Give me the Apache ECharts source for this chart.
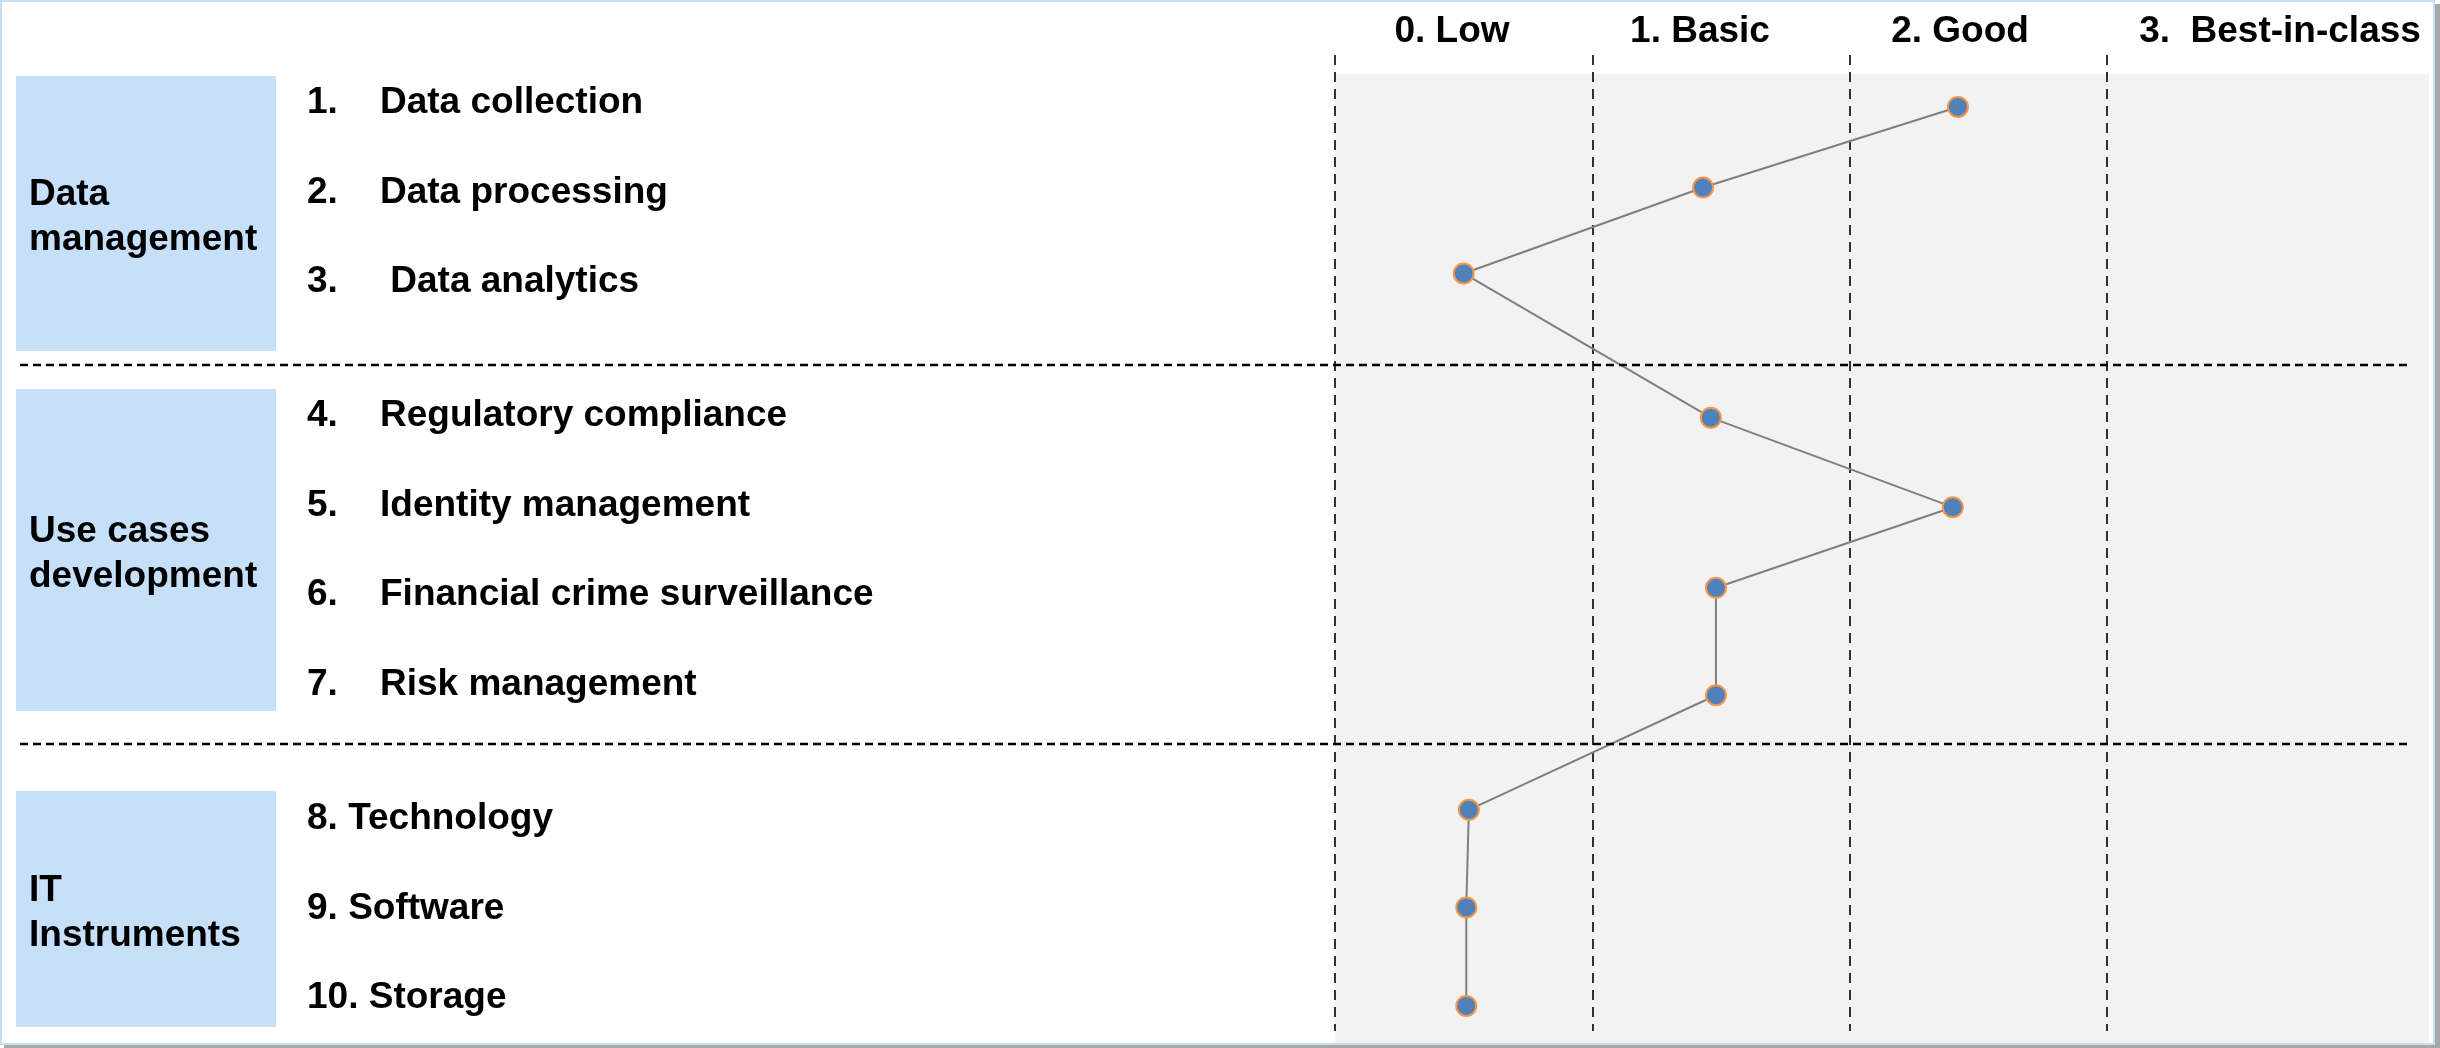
<!DOCTYPE html>
<html>
<head>
<meta charset="utf-8">
<script src="https://cdn.jsdelivr.net/npm/echarts/dist/echarts.min.js"></script>
<style>
  html, body { margin: 0; padding: 0; background: #ffffff; }
  #chart { width: 2440px; height: 1048px; }
</style>
</head>
<body>
<div id="chart"></div>
<script>
// Maturity levels shown as column headers
const levelLabels = ['0. Low', '1. Basic', '2. Good', '3.  Best-in-class'];
// Column boundaries between maturity levels
const levelBounds = [-0.5, 0.5, 1.5, 2.5];

// Assessed items
const itemCodes = ['1.', '2.', '3.', '4.', '5.', '6.', '7.', '8.', '9.', '10.'];
const itemNames = ['Data collection', 'Data processing', ' Data analytics',
  'Regulatory compliance', 'Identity management', 'Financial crime surveillance',
  'Risk management', 'Technology', 'Software', 'Storage'];
// Row position of each item label
const itemRows = [1, 2, 3, 4.5, 5.5, 6.5, 7.5, 9, 10, 11];

// Assessed maturity score per item, and the row at which it is plotted
const scores = [1.92, 0.93, 0.0, 0.96, 1.9, 0.98, 0.98, 0.02, 0.01, 0.01];
const scoreRows = [1.08, 1.98, 2.94, 4.55, 5.55, 6.45, 7.65, 8.93, 10.02, 11.12];

// Item groups
const groupNames = [['Data', 'management'], ['Use cases', 'development'], ['IT', 'Instruments']];

const FONT = '"Liberation Sans", Arial, Helvetica, sans-serif';
const TEXT_FONT = 'bold 37px ' + FONT;
const TEXT_DY = 3; // optical correction so cap height centres on the row

const chart = echarts.init(document.getElementById('chart'), null, { renderer: 'canvas' });

chart.setOption({
  animation: false,
  backgroundColor: '#ffffff',
  grid: { left: 1335, right: 11, top: 55, bottom: 17 },
  xAxis: {
    type: 'value', min: -0.5, max: 3.75,
    axisLine: { show: false }, axisTick: { show: false },
    axisLabel: { show: false }, splitLine: { show: false }
  },
  yAxis: {
    type: 'value', min: 0.5, max: 11.4, inverse: true,
    axisLine: { show: false }, axisTick: { show: false },
    axisLabel: { show: false }, splitLine: { show: false }
  },
  series: [{
    type: 'line',
    data: scores.map((s, i) => [s, scoreRows[i]]),
    symbol: 'circle',
    symbolSize: 20,
    lineStyle: { color: '#7F7F7F', width: 2 },
    itemStyle: { color: '#4F81BD', borderColor: '#F79646', borderWidth: 2 },
    z: 5,
    markLine: {
      silent: true,
      symbol: ['none', 'none'],
      label: { show: false },
      lineStyle: { color: '#000000', type: [10, 7], width: 1.6 },
      data: levelBounds.map(v => ({ xAxis: v }))
    }
  }]
});

// Decorations and text placed around the plot
const yPix = v => chart.convertToPixel({ yAxisIndex: 0 }, v);
const xPix = v => chart.convertToPixel({ xAxisIndex: 0 }, v);

const graphics = [];

// Frame with soft shadow
graphics.push({ type: 'rect', silent: true, z: -20,
  shape: { x: 4, y: 1044, width: 2436, height: 4 }, style: { fill: '#A8A8A8' } });
graphics.push({ type: 'rect', silent: true, z: -20,
  shape: { x: 2435, y: 4, width: 5, height: 1044 }, style: { fill: '#A8A8A8' } });
graphics.push({ type: 'rect', silent: true, z: -19,
  shape: { x: 1, y: 1, width: 2433, height: 1043 },
  style: { fill: '#ffffff', stroke: '#C6DDF5', lineWidth: 2 } });

// Grey plotting background
const bgLeft = xPix(levelBounds[0]);
graphics.push({ type: 'rect', silent: true, z: -10,
  shape: { x: bgLeft, y: 74, width: 2429 - bgLeft, height: 1043 - 74 },
  style: { fill: '#F2F2F2' } });

// Column headers
const headerCenters = [1452, 1700, 1960, 2280];
levelLabels.forEach((t, i) => {
  graphics.push({ type: 'text', silent: true, z: 10,
    style: { text: t, x: headerCenters[i], y: 30 + 1.5, align: 'center', verticalAlign: 'middle',
      font: TEXT_FONT, fill: '#000000' } });
});

// Group boxes
const groupBoxes = [[76, 351], [389, 711], [791, 1027]];
groupBoxes.forEach((b, i) => {
  graphics.push({ type: 'rect', silent: true, z: -5,
    shape: { x: 16, y: b[0], width: 260, height: b[1] - b[0] },
    style: { fill: '#C6E0F9' } });
  const mid = (b[0] + b[1]) / 2;
  groupNames[i].forEach((line, k) => {
    graphics.push({ type: 'text', silent: true, z: 10,
      style: { text: line, x: 29, y: mid - 22.5 + k * 45 + TEXT_DY + 1, align: 'left', verticalAlign: 'middle',
        font: TEXT_FONT, fill: '#000000' } });
  });
});

// Dashed separators between groups
[365, 744].forEach(y => {
  graphics.push({ type: 'line', silent: true, z: 6,
    shape: { x1: 20, y1: y, x2: 2410, y2: y },
    style: { stroke: '#000000', lineWidth: 2.5, lineDash: [8, 5] } });
});

// Item labels
itemNames.forEach((name, i) => {
  const y = yPix(itemRows[i]) + TEXT_DY;
  if (i < 7) {
    graphics.push({ type: 'text', silent: true, z: 10,
      style: { text: itemCodes[i], x: 307, y: y, align: 'left', verticalAlign: 'middle',
        font: TEXT_FONT, fill: '#000000' } });
    graphics.push({ type: 'text', silent: true, z: 10,
      style: { text: name, x: 380, y: y, align: 'left', verticalAlign: 'middle',
        font: TEXT_FONT, fill: '#000000' } });
  } else {
    graphics.push({ type: 'text', silent: true, z: 10,
      style: { text: itemCodes[i] + ' ' + name, x: 307, y: y, align: 'left', verticalAlign: 'middle',
        font: TEXT_FONT, fill: '#000000' } });
  }
});

chart.setOption({ graphic: graphics });
</script>
</body>
</html>
